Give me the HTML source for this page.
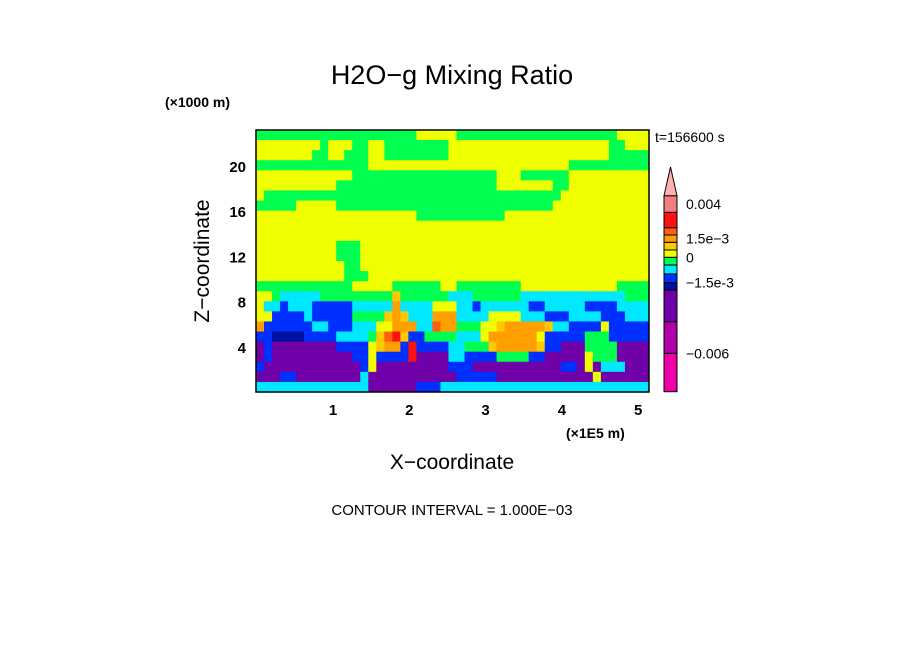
<!DOCTYPE html>
<html><head><meta charset="utf-8"><style>
html,body{margin:0;padding:0;background:#fff;}
svg{display:block;font-family:"Liberation Sans","DejaVu Sans",sans-serif;}
</style></head><body>
<svg id="chart" width="904" height="654" viewBox="0 0 904 654">
<g id="field"></g>
<rect x="256" y="130" width="393" height="262" fill="none" stroke="#000" stroke-width="1.5"/>
<g id="xticks"></g>
<g id="yticks"></g>
<g id="cbar"></g>
<text x="452" y="84" font-size="27" text-anchor="middle">H2O−g Mixing Ratio</text>
<text x="165" y="107" font-size="14" font-weight="bold">(×1000 m)</text>
<text x="655" y="142" font-size="14">t=156600 s</text>
<text x="566" y="438" font-size="14" font-weight="bold">(×1E5 m)</text>
<text x="452" y="469" font-size="21" text-anchor="middle">X−coordinate</text>
<text x="0" y="0" font-size="21" text-anchor="middle" transform="translate(209,261) rotate(-90)">Z−coordinate</text>
<text x="452" y="515" font-size="15" text-anchor="middle">CONTOUR INTERVAL = 1.000E−03</text>
</svg>
<script>
const levelColors = ["#f000a8","#b000a8","#7000a8","#0010a0","#0030ff","#00e8ff","#00ff50","#f0ff00","#ffc800","#ffa000","#ff6010","#ff1010","#f08080"];
const cbarLabels = ["0.004","1.5e-3","0","-1.5e-3","-0.006"];
const cbarLabelLevels = [12.5,9.5,7,4,1];
const xTicks = [1,2,3,4,5];
const zTicks = [4,8,12,16,20];
const gridRows = [
"6666666666666666666677777666666666666666666667777",
"7777777767776677666666667777777777777777777766777",
"7777777667766677666666667777777777777777777766666",
"6666666666666677777777777777777777777776666666666",
"7777777777776666666666666666667776666667777777777",
"7777777777666666666666666666667777777667777777777",
"7666666666666666666666666666666666666677777777777",
"6666677777666666666666666666666666666777777777777",
"7777777777777777777766666666666777777777777777777",
"7777777777777777777777777777777777777777777777777",
"7777777777777777777777777777777777777777777777777",
"7777777777666777777777777777777777777777777777777",
"7777777777666777777777777777777777777777777777777",
"7777777777766777777777777777777777777777777777777",
"7777777777766677777777777777777777777777777777777",
"6666666666667777766666677666666667777777777776666",
"7765555566666666686666665556666665555555555555666",
"7554555444445555595555777554555555445555544445555",
"7744445444446666898555999555577775554445555444555",
"9444444554445557799955a99666778999998554444744444",
"4433334444555568ab8446666555799999974444466644444",
"2422222222444478994b44445566689999984422266662222",
"2422222222224474444b22225544446666442222276662222",
"4222222222222472222222224442222222222244272555222",
"2224422222222522222222222444442222222222227222222",
"5555555555555522222244455555555555555555555555555"
];
const NS="http://www.w3.org/2000/svg";
const X0=256,X1=649,Y0=130,Y1=392;
const xScale=v=>256.7+v*76.3;
const zScale=v=>392-v*11.3;
const field=document.getElementById('field');
const nr=gridRows.length;
gridRows.forEach((row,i)=>{
  const s=row.slice(0,49);const nc=49;
  for(let j=0;j<nc;j++){
    const r=document.createElementNS(NS,'rect');
    const x=X0+(X1-X0)*j/nc, x2=X0+(X1-X0)*(j+1)/nc;
    const y=Y0+(Y1-Y0)*i/nr, y2=Y0+(Y1-Y0)*(i+1)/nr;
    r.setAttribute('x',x);r.setAttribute('y',y);
    r.setAttribute('width',x2-x+0.5);r.setAttribute('height',y2-y+0.5);
    r.setAttribute('fill',levelColors[parseInt(s[j],16)]||levelColors[7]);
    
    
    field.appendChild(r);
  }
});
const xt=document.getElementById('xticks');
xTicks.forEach(v=>{
  const t=document.createElementNS(NS,'text');
  t.setAttribute('x',xScale(v));t.setAttribute('y',415);
  t.setAttribute('font-size','15');t.setAttribute('font-weight','bold');t.setAttribute('text-anchor','middle');
  t.textContent=v;
  
  
  xt.appendChild(t);
});
const yt=document.getElementById('yticks');
zTicks.forEach(v=>{
  const t=document.createElementNS(NS,'text');
  t.setAttribute('x',246);t.setAttribute('y',zScale(v)+6);
  t.setAttribute('font-size','15');t.setAttribute('font-weight','bold');t.setAttribute('text-anchor','end');
  t.textContent=v;
  
  
  yt.appendChild(t);
});
const cb=document.getElementById('cbar');
const cbEdges=[391.7,353.3,321.7,290,282.7,274,265,257.3,250,242.3,235,227.7,212.3,195.7];
const cbLevelY=l=>{const i=Math.floor(l);const f=l-i;return cbEdges[i]+(cbEdges[Math.min(i+1,13)]-cbEdges[i])*f;};
levelColors.forEach((c,i)=>{
  const r=document.createElementNS(NS,'rect');
  r.setAttribute('x',664);r.setAttribute('y',cbEdges[i+1]);
  r.setAttribute('width',13);r.setAttribute('height',cbEdges[i]-cbEdges[i+1]);
  r.setAttribute('fill',c);r.setAttribute('stroke','#000');r.setAttribute('stroke-width','1');
  
  
  cb.appendChild(r);
});
const tri=document.createElementNS(NS,'polygon');
tri.setAttribute('points','664,195.7 677,195.7 670.5,167');
tri.setAttribute('fill','#ffb0b0');tri.setAttribute('stroke','#000');tri.setAttribute('stroke-width','1');


cb.appendChild(tri);
cbarLabels.forEach((lab,i)=>{
  const t=document.createElementNS(NS,'text');
  t.setAttribute('x',686);t.setAttribute('y',cbLevelY(cbarLabelLevels[i])+5);
  t.setAttribute('font-size','14');
  t.textContent=lab.replace('-','−');
  
  
  cb.appendChild(t);
});
</script>
</body></html>
